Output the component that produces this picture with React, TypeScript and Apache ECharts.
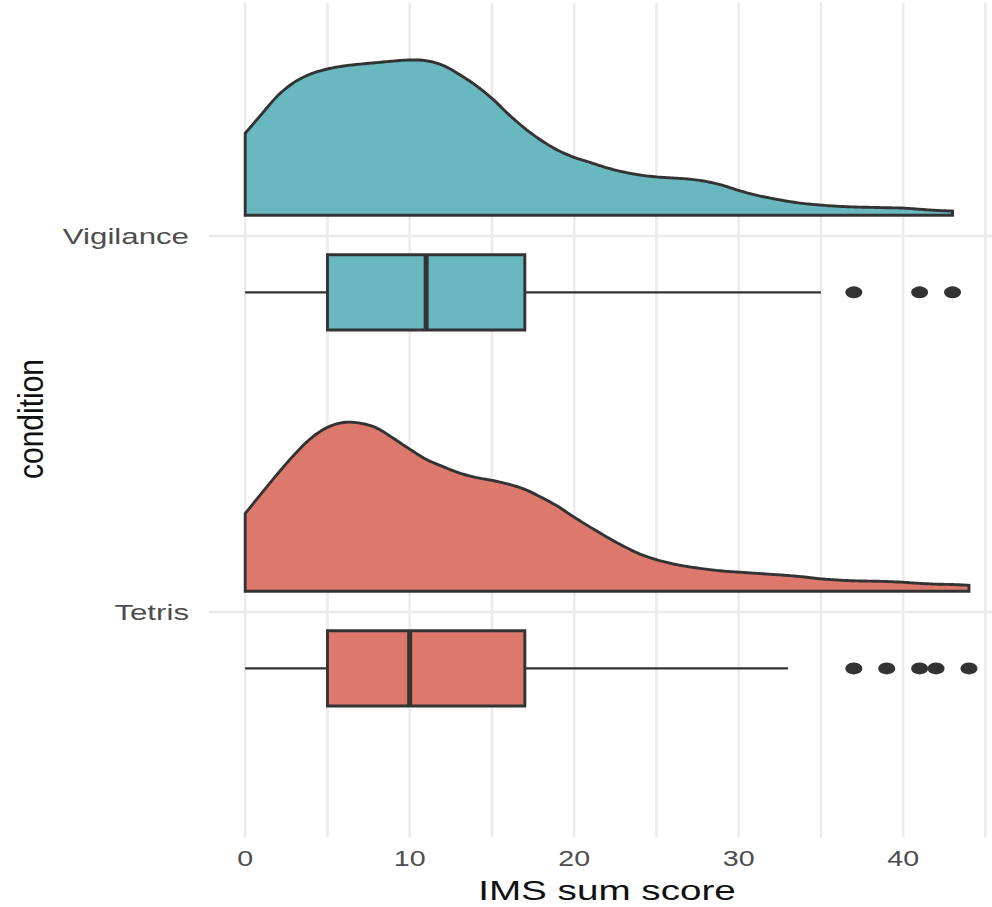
import React, { useEffect, useRef } from "react";
import * as echarts from "echarts";

// ---------- data ----------
const conditions = ["Tetris", "Vigilance"];
const conditionPos = [1, 2];
const fillColors = ["#dd786d", "#69b8bf"];

// half-violin density heights (in y-axis units)
const densityXTetris = [0, 1, 2, 3, 4, 5, 6, 7, 8, 9, 10, 11, 12, 13, 14, 15, 16, 17, 18, 19, 20, 21, 22, 23, 24, 25, 26, 27, 28, 29, 30, 31, 32, 33, 34, 35, 36, 37, 38, 39, 40, 41, 42, 43, 44];
const densityHTetris = [0.207, 0.261, 0.314, 0.364, 0.407, 0.436, 0.449, 0.447, 0.434, 0.407, 0.378, 0.351, 0.332, 0.315, 0.303, 0.295, 0.285, 0.271, 0.25, 0.226, 0.197, 0.17, 0.144, 0.12, 0.099, 0.084, 0.073, 0.065, 0.059, 0.054, 0.051, 0.048, 0.045, 0.042, 0.038, 0.033, 0.030, 0.028, 0.027, 0.026, 0.024, 0.021, 0.019, 0.018, 0.016];
const densityXVigilance = [0, 1, 2, 3, 4, 5, 6, 7, 8, 9, 10, 11, 12, 13, 14, 15, 16, 17, 18, 19, 20, 21, 22, 23, 24, 25, 26, 27, 28, 29, 30, 31, 32, 33, 34, 35, 36, 37, 38, 39, 40, 41, 42, 43];
const densityHVigilance = [0.218, 0.269, 0.319, 0.354, 0.376, 0.389, 0.397, 0.402, 0.406, 0.410, 0.413, 0.411, 0.399, 0.375, 0.346, 0.311, 0.269, 0.231, 0.199, 0.173, 0.154, 0.140, 0.126, 0.115, 0.107, 0.102, 0.099, 0.096, 0.09, 0.08, 0.066, 0.054, 0.045, 0.037, 0.031, 0.027, 0.024, 0.022, 0.021, 0.020, 0.019, 0.016, 0.013, 0.011];

// box stats: [lower whisker, q1, median, q3, upper whisker]
const boxTetris = [0, 5, 10, 17, 33];
const boxVigilance = [0, 5, 11, 17, 35];
const outliersTetris = [37, 39, 41, 42, 44];
const outliersVigilance = [37, 41, 43];

const xTicks = [0, 10, 20, 30, 40];
const xGridLines = [0, 5, 10, 15, 20, 25, 30, 35, 40, 45];
const xTitle = "IMS sum score";
const yTitle = "condition";

// ---------- layout constants ----------
const X_MIN = -2.2;
const X_MAX = 45.4;
const Y_MIN = 0.4;
const Y_MAX = 2.62;
const DENSITY_OFFSET = 0.055;
const BOX_OFFSET = -0.15;
const BOX_HALF = 0.1;
const INK = "#333333";
const FONT = '"Liberation Sans", Arial, sans-serif';

const densX = [densityXTetris, densityXVigilance];
const densH = [densityHTetris, densityHVigilance];
const boxes = [boxTetris, boxVigilance];
const outliers = [outliersTetris, outliersVigilance];

function catmull(pts: number[][], n = 8): number[][] {
  const out: number[][] = [];
  const L = pts.length;
  for (let i = 0; i < L - 1; i++) {
    const p0 = pts[Math.max(i - 1, 0)];
    const p1 = pts[i];
    const p2 = pts[i + 1];
    const p3 = pts[Math.min(i + 2, L - 1)];
    for (let s = 0; s < n; s++) {
      const t = s / n;
      const t2 = t * t;
      const t3 = t2 * t;
      const f = (a: number, b: number, c: number, d: number) =>
        0.5 * (2 * b + (-a + c) * t + (2 * a - 5 * b + 4 * c - d) * t2 + (-a + 3 * b - 3 * c + d) * t3);
      out.push([f(p0[0], p1[0], p2[0], p3[0]), f(p0[1], p1[1], p2[1], p3[1])]);
    }
  }
  out.push(pts[L - 1]);
  return out;
}

export default function App() {
  const ref = useRef<HTMLDivElement>(null);
  useEffect(() => {
    if (!ref.current) return;
    const chart = echarts.init(ref.current, undefined, { renderer: "svg" });

    const outlierData: number[][] = [];
    outliers.forEach((arr, k) => arr.forEach((v) => outlierData.push([v, conditionPos[k] + BOX_OFFSET])));

    chart.setOption({
      animation: false,
      backgroundColor: "#ffffff",
      grid: { left: 209, top: 2.8, width: 783, height: 834.8 },
      xAxis: { type: "value", min: X_MIN, max: X_MAX, show: false },
      yAxis: { type: "value", min: Y_MIN, max: Y_MAX, show: false },
      graphic: [
        {
          type: "text",
          x: 607,
          y: 890,
          scaleX: 1.38,
          style: { text: xTitle, font: `28px ${FONT}`, fill: "#111111", align: "center", verticalAlign: "middle" },
        },
        {
          type: "text",
          x: 31,
          y: 419,
          rotation: Math.PI / 2,
          scaleY: 1.15,
          style: { text: yTitle, font: `30px ${FONT}`, fill: "#111111", align: "center", verticalAlign: "middle" },
        },
      ],
      series: [
        // vertical grid lines
        {
          type: "custom",
          z: 0,
          silent: true,
          data: xGridLines.map((v) => [v, Y_MIN]),
          renderItem: (params: any, api: any) => {
            const v = xGridLines[params.dataIndex];
            const a = api.coord([v, Y_MIN]);
            const b = api.coord([v, Y_MAX]);
            return {
              type: "line",
              shape: { x1: a[0], y1: a[1], x2: b[0], y2: b[1] },
              style: { stroke: "#ebebeb", lineWidth: 2.5 },
            };
          },
        },
        // horizontal grid lines at categories
        {
          type: "custom",
          z: 0,
          silent: true,
          data: conditionPos.map((p) => [X_MIN, p]),
          renderItem: (params: any, api: any) => {
            const p = conditionPos[params.dataIndex];
            const a = api.coord([X_MIN, p]);
            const b = api.coord([X_MAX, p]);
            return {
              type: "line",
              shape: { x1: a[0], y1: a[1], x2: b[0], y2: b[1] },
              style: { stroke: "#ebebeb", lineWidth: 2.5 },
            };
          },
        },
        // half violins
        {
          type: "custom",
          z: 2,
          data: conditionPos.map((p) => [0, p]),
          renderItem: (params: any, api: any) => {
            const k = params.dataIndex;
            const xs = densX[k];
            const hs = densH[k];
            const base = conditionPos[k] + DENSITY_OFFSET;
            const top = xs.map((x, i) => api.coord([x, base + hs[i]]));
            const curve = catmull(top, 8);
            const b0 = api.coord([xs[0], base]);
            const b1 = api.coord([xs[xs.length - 1], base]);
            return {
              type: "polygon",
              shape: { points: [b0, ...curve, b1] },
              style: { fill: fillColors[k], stroke: INK, lineWidth: 2.9, lineJoin: "miter" },
            };
          },
        },
        // box plots
        {
          type: "custom",
          z: 3,
          data: conditionPos.map((p) => [0, p]),
          renderItem: (params: any, api: any) => {
            const k = params.dataIndex;
            const [lo, q1, med, q3, hi] = boxes[k];
            const c = conditionPos[k] + BOX_OFFSET;
            const pLo = api.coord([lo, c]);
            const pQ1 = api.coord([q1, c]);
            const pQ3 = api.coord([q3, c]);
            const pHi = api.coord([hi, c]);
            const top = api.coord([q1, c + BOX_HALF])[1];
            const bot = api.coord([q1, c - BOX_HALF])[1];
            const mx = api.coord([med, c])[0];
            return {
              type: "group",
              children: [
                {
                  type: "line",
                  shape: { x1: pLo[0], y1: pLo[1], x2: pQ1[0], y2: pQ1[1] },
                  style: { stroke: INK, lineWidth: 2.4 },
                },
                {
                  type: "line",
                  shape: { x1: pQ3[0], y1: pQ3[1], x2: pHi[0], y2: pHi[1] },
                  style: { stroke: INK, lineWidth: 2.4 },
                },
                {
                  type: "rect",
                  shape: { x: pQ1[0], y: top, width: pQ3[0] - pQ1[0], height: bot - top },
                  style: { fill: fillColors[k], stroke: INK, lineWidth: 2.9 },
                },
                {
                  type: "line",
                  shape: { x1: mx, y1: top, x2: mx, y2: bot },
                  style: { stroke: INK, lineWidth: 5 },
                },
              ],
            };
          },
        },
        // outliers
        {
          type: "scatter",
          z: 4,
          symbol: "circle",
          symbolSize: [17, 12],
          itemStyle: { color: INK, opacity: 1 },
          data: outlierData,
        },
        // x tick labels
        {
          type: "custom",
          z: 5,
          clip: false,
          silent: true,
          data: xTicks.map((v) => [v, Y_MIN]),
          renderItem: (params: any, api: any) => {
            const v = xTicks[params.dataIndex];
            const p = api.coord([v, Y_MIN]);
            return {
              type: "text",
              x: p[0],
              y: p[1] + 21,
              scaleX: 1.3,
              style: { text: String(v), font: `22px ${FONT}`, fill: "#4d4d4d", align: "center", verticalAlign: "middle" },
            };
          },
        },
        // y category labels
        {
          type: "custom",
          z: 5,
          clip: false,
          silent: true,
          data: conditionPos.map((p) => [X_MIN, p]),
          renderItem: (params: any, api: any) => {
            const k = params.dataIndex;
            const p = api.coord([X_MIN, conditionPos[k]]);
            return {
              type: "text",
              x: p[0] - 20,
              y: p[1] + 1,
              scaleX: 1.42,
              style: { text: conditions[k], font: `22px ${FONT}`, fill: "#4d4d4d", align: "right", verticalAlign: "middle" },
            };
          },
        },
      ],
    });
    return () => chart.dispose();
  }, []);
  return <div ref={ref} style={{ position: "fixed", left: 0, top: 0, width: 992, height: 907 }} />;
}
